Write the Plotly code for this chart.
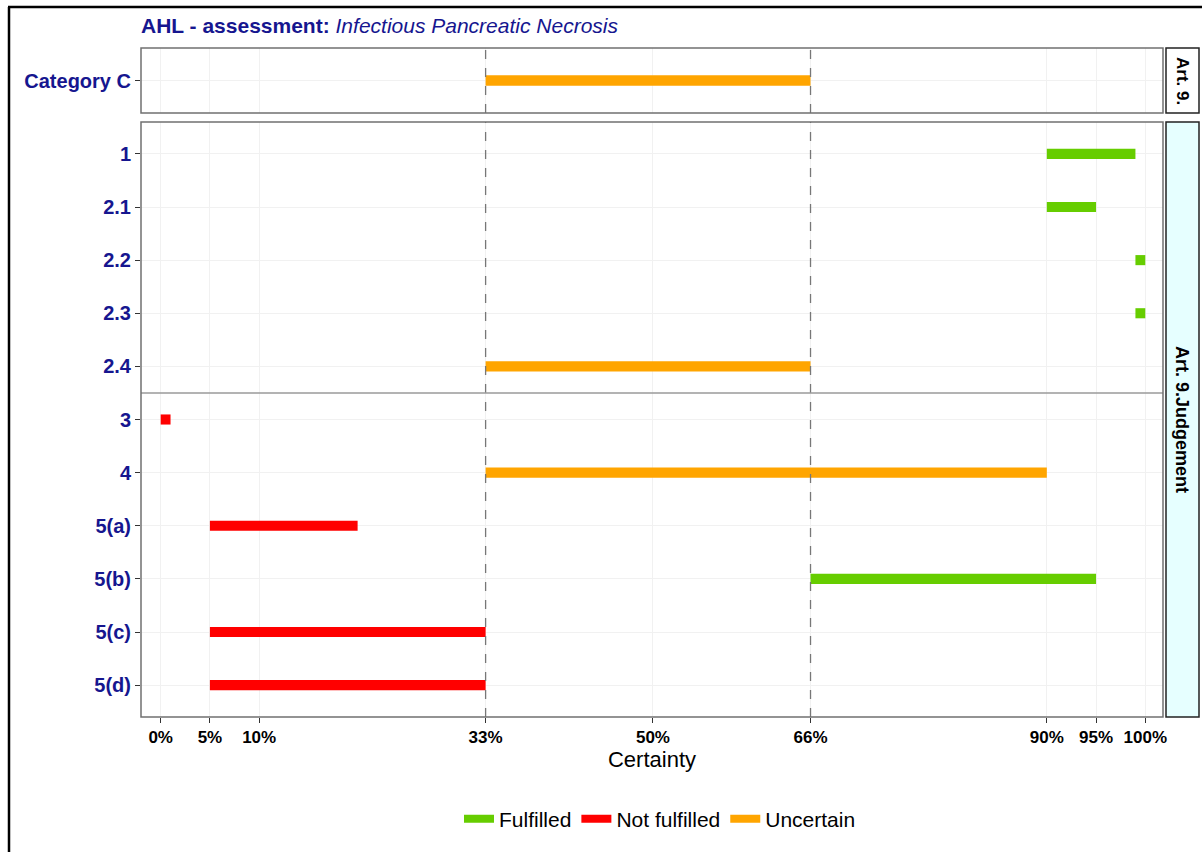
import plotly.graph_objects as go

# ---- data ----
top_items = ["Category C"]
top_start = [33]
top_end = [66]
top_status = ["Uncertain"]

judgement_items = ["1", "2.1", "2.2", "2.3", "2.4", "3", "4", "5(a)", "5(b)", "5(c)", "5(d)"]
judgement_start = [90, 90, 99, 99, 33, 0, 33, 5, 66, 5, 5]
judgement_end = [99, 95, 100, 100, 66, 1, 90, 20, 95, 33, 33]
judgement_status = ["Fulfilled", "Fulfilled", "Fulfilled", "Fulfilled", "Uncertain",
                    "Not fulfilled", "Uncertain", "Not fulfilled", "Fulfilled",
                    "Not fulfilled", "Not fulfilled"]

status_order = ["Fulfilled", "Not fulfilled", "Uncertain"]
status_colors = {"Fulfilled": "#66CD00", "Not fulfilled": "#FF0000", "Uncertain": "#FFA500"}

tick_vals = [0, 5, 10, 33, 50, 66, 90, 95, 100]
tick_text = ["0%", "5%", "10%", "33%", "50%", "66%", "90%", "95%", "100%"]
threshold_lines = [33, 66]
panel_labels = ["Art. 9.", "Art. 9.Judgement"]

FONT = "Liberation Sans, Arial, sans-serif"
NAVY = "#16168F"

fig = go.Figure()

def add_bars(items, starts, ends, statuses, xa, ya):
    for s in status_order:
        ys = [it for it, st in zip(items, statuses) if st == s]
        if not ys:
            continue
        b = [a for a, st in zip(starts, statuses) if st == s]
        w = [e - a for a, e, st in zip(starts, ends, statuses) if st == s]
        fig.add_trace(go.Bar(
            y=ys, x=w, base=b, orientation="h", width=0.19,
            marker=dict(color=status_colors[s], line=dict(width=0)),
            xaxis=xa, yaxis=ya, showlegend=False, hoverinfo="skip"))

add_bars(top_items, top_start, top_end, top_status, "x2", "y")
add_bars(judgement_items, judgement_start, judgement_end, judgement_status, "x", "y2")

# legend entries
for s in status_order:
    fig.add_trace(go.Scatter(x=[None], y=[None], mode="lines", name=s,
                             line=dict(color=status_colors[s], width=8),
                             xaxis="x", yaxis="y2"))

W, H = 1202, 852
ml, mr, mt, mb = 141, 39, 48, 135
pw = W - ml - mr
ph = H - mt - mb

def px_x(p):
    return (p - ml) / pw

def px_y(p):
    return (H - mb - p) / ph

top_dom = [px_y(113), 1.0]
bot_dom = [0.0, px_y(122)]

grid = "#F1F1F1"
axis_common = dict(range=[-2, 101.8], tickvals=tick_vals, ticktext=tick_text,
                   showgrid=True, gridcolor=grid, gridwidth=1, zeroline=False,
                   showline=False)

fig.update_layout(
    width=W, height=H,
    margin=dict(l=ml, r=mr, t=mt, b=mb),
    paper_bgcolor="white", plot_bgcolor="white",
    font=dict(family=FONT, color="black"),
    barmode="overlay",
    title=dict(text="<b>AHL - assessment:</b> <i>Infectious Pancreatic Necrosis</i>",
               xref="container", x=141 / W, xanchor="left", y=1 - 26 / H, yanchor="middle",
               font=dict(size=21, color=NAVY, family=FONT)),
    xaxis=dict(**axis_common, anchor="y2", domain=[0, 1],
               ticks="outside", ticklen=5, tickcolor="#333",
               tickfont=dict(size=17, color="black", family=FONT, weight="bold"),
               title=dict(text="Certainty", font=dict(size=22, color="black"), standoff=4)),
    xaxis2=dict(**axis_common, anchor="y", domain=[0, 1], matches="x",
                showticklabels=False, ticks=""),
    yaxis=dict(domain=top_dom, type="category", categoryarray=top_items,
               range=[0.6, -0.6], showgrid=True, gridcolor=grid, zeroline=False,
               ticks="outside", ticklen=5, tickcolor="#333",
               tickfont=dict(size=20, color=NAVY, family=FONT, weight="bold"), anchor="x2"),
    yaxis2=dict(domain=bot_dom, type="category", categoryarray=judgement_items,
                range=[len(judgement_items) - 0.4, -0.6], showgrid=True, gridcolor=grid,
                zeroline=False, ticks="outside", ticklen=5, tickcolor="#333",
                tickfont=dict(size=20, color=NAVY, family=FONT, weight="bold"), anchor="x"),
    legend=dict(orientation="h", x=px_x(660), xanchor="center", y=px_y(819),
                yanchor="middle", font=dict(size=21, color="black"),
                bgcolor="rgba(0,0,0,0)"),
)

shapes = []
# threshold dashed lines
for ya in ["y", "y2"]:
    for v in threshold_lines:
        shapes.append(dict(type="line", xref="x", yref=f"{ya} domain", x0=v, x1=v, y0=0, y1=1,
                           line=dict(color="#777777", width=1.3, dash="dash")))
# separator in judgement panel between 2.4 and 3
shapes.append(dict(type="line", xref="x domain", yref="y2", x0=0, x1=1, y0=4.5, y1=4.5,
                   line=dict(color="#9A9A9A", width=1.5)))
# panel borders
for ya in ["y", "y2"]:
    shapes.append(dict(type="rect", xref="x domain", yref=f"{ya} domain", x0=0, x1=1, y0=0, y1=1,
                       line=dict(color="#707070", width=1.5), fillcolor="rgba(0,0,0,0)"))
# strips
strip_x0, strip_x1 = px_x(1166), px_x(1199)
shapes.append(dict(type="rect", xref="paper", yref="paper", x0=strip_x0, x1=strip_x1,
                   y0=top_dom[0], y1=top_dom[1], line=dict(color="#222", width=1.5),
                   fillcolor="white"))
shapes.append(dict(type="rect", xref="paper", yref="paper", x0=strip_x0, x1=strip_x1,
                   y0=bot_dom[0], y1=bot_dom[1], line=dict(color="#222", width=1.5),
                   fillcolor="#E6FFFF"))
# outer frame of the image
shapes.append(dict(type="line", xref="paper", yref="paper", x0=px_x(9), x1=px_x(9),
                   y0=px_y(7), y1=px_y(870), line=dict(color="black", width=2.5)))
shapes.append(dict(type="line", xref="paper", yref="paper", x0=px_x(8), x1=px_x(1220),
                   y0=px_y(7), y1=px_y(7), line=dict(color="black", width=2.5)))
fig.update_layout(shapes=shapes)

sx = (strip_x0 + strip_x1) / 2
fig.add_annotation(x=sx, y=sum(top_dom) / 2, xref="paper", yref="paper",
                   xanchor="center", yanchor="middle",
                   text="<b>" + panel_labels[0] + "</b>", textangle=90, showarrow=False,
                   font=dict(size=17, color="black"))
fig.add_annotation(x=sx, y=sum(bot_dom) / 2, xref="paper", yref="paper",
                   xanchor="center", yanchor="middle",
                   text="<b>" + panel_labels[1] + "</b>", textangle=90, showarrow=False,
                   font=dict(size=18, color="black"))

fig.write_html("out.html", config={"displayModeBar": False},
               post_script="document.body.style.margin='0';")
